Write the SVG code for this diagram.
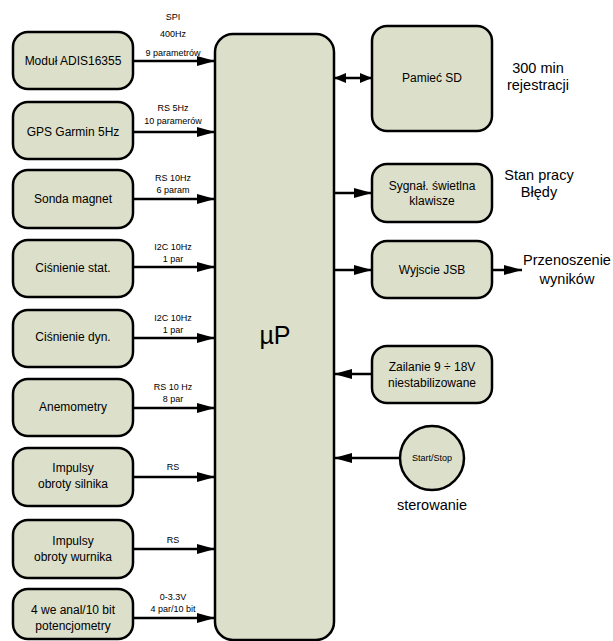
<svg xmlns="http://www.w3.org/2000/svg" width="613" height="641" viewBox="0 0 613 641">
<defs>
<style>
.n{fill:#dcdfc9;stroke:#000;stroke-width:2.5}
.t{font-family:"Liberation Sans",Arial,sans-serif;font-size:12px;fill:#000;text-anchor:middle}
.s{font-family:"Liberation Sans",Arial,sans-serif;font-size:9px;fill:#000;text-anchor:middle}
.b{font-family:"Liberation Sans",Arial,sans-serif;font-size:14.5px;fill:#000;text-anchor:middle}
.c line{stroke:#000;stroke-width:2.5}
</style>
<marker id="ah" viewBox="0 0 18 10" refX="18" refY="5" markerWidth="18" markerHeight="10" markerUnits="userSpaceOnUse" orient="auto-start-reverse">
<path d="M0,0 L18,5 L0,10 Z" fill="#000"/>
</marker>
<marker id="ah2" viewBox="0 0 12 10" refX="12" refY="5" markerWidth="12" markerHeight="10" markerUnits="userSpaceOnUse" orient="auto-start-reverse">
<path d="M0,0 L12,5 L0,10 Z" fill="#000"/>
</marker>
</defs>
<rect width="613" height="641" fill="#fff"/>
<g id="up"><rect class="n" x="215" y="34" width="119" height="606" rx="18"/><text x="275" y="344" font-family="Liberation Sans,Arial,sans-serif" font-size="25" text-anchor="middle">µP</text></g>
<g id="n1"><rect class="n" x="13" y="32" width="120" height="57" rx="15"/><text class="t" x="73" y="65">Moduł ADIS16355</text></g>
<g id="n2"><rect class="n" x="13" y="102" width="120" height="57" rx="15"/><text class="t" x="73" y="136">GPS Garmin 5Hz</text></g>
<g id="n3"><rect class="n" x="13" y="170" width="120" height="58" rx="15"/><text class="t" x="73" y="203">Sonda magnet</text></g>
<g id="n4"><rect class="n" x="13" y="240" width="120" height="57" rx="15"/><text class="t" x="73" y="272">Ciśnienie stat.</text></g>
<g id="n5"><rect class="n" x="13" y="310" width="120" height="57" rx="15"/><text class="t" x="73" y="341">Ciśnienie dyn.</text></g>
<g id="n6"><rect class="n" x="13" y="379" width="120" height="57" rx="15"/><text class="t" x="73" y="411">Anemometry</text></g>
<g id="n7"><rect class="n" x="13" y="448" width="120" height="58" rx="15"/><text class="t" x="73" y="472">Impulsy</text><text class="t" x="73" y="488">obroty silnika</text></g>
<g id="n8"><rect class="n" x="13" y="520" width="120" height="58" rx="15"/><text class="t" x="73" y="545">Impulsy</text><text class="t" x="73" y="561">obroty wurnika</text></g>
<g id="n9"><rect class="n" x="13" y="589" width="120" height="50" rx="15"/><text class="t" x="73" y="614">4 we anal/10 bit</text><text class="t" x="73" y="630">potencjometry</text></g>
<g id="sd"><rect class="n" x="372" y="26" width="120" height="105" rx="15"/><text class="t" x="432" y="82">Pamieć SD</text></g>
<g id="syg"><rect class="n" x="372" y="164" width="120" height="58" rx="15"/><text class="t" x="432" y="190">Sygnał. świetlna</text><text class="t" x="432" y="205">klawisze</text></g>
<g id="usb"><rect class="n" x="372" y="241" width="120" height="57" rx="15"/><text class="t" x="432" y="274">Wyjscie JSB</text></g>
<g id="zas"><rect class="n" x="372" y="346" width="120" height="57" rx="15"/><text class="t" x="432" y="371">Zailanie 9 ÷ 18V</text><text class="t" x="432" y="387">niestabilizowane</text></g>
<g id="ss"><circle class="n" cx="432" cy="458" r="32"/><text class="s" x="432" y="461">Start/Stop</text></g>
<g id="connectors" class="c">
<line x1="133" y1="61" x2="215" y2="61" marker-end="url(#ah)"/>
<line x1="133" y1="132" x2="215" y2="132" marker-end="url(#ah)"/>
<line x1="133" y1="199" x2="215" y2="199" marker-end="url(#ah)"/>
<line x1="133" y1="267" x2="215" y2="267" marker-end="url(#ah)"/>
<line x1="133" y1="338" x2="215" y2="338" marker-end="url(#ah)"/>
<line x1="133" y1="408" x2="215" y2="408" marker-end="url(#ah)"/>
<line x1="133" y1="477" x2="215" y2="477" marker-end="url(#ah)"/>
<line x1="133" y1="549" x2="215" y2="549" marker-end="url(#ah)"/>
<line x1="133" y1="618" x2="215" y2="618" marker-end="url(#ah)"/>
<line x1="334" y1="78" x2="372" y2="78" marker-start="url(#ah2)" marker-end="url(#ah2)"/>
<line x1="334" y1="193" x2="372" y2="193" marker-end="url(#ah)"/>
<line x1="334" y1="270" x2="372" y2="270" marker-end="url(#ah)"/>
<line x1="492" y1="270" x2="522" y2="270" marker-end="url(#ah)"/>
<line x1="372" y1="374" x2="334" y2="374" marker-end="url(#ah)"/>
<line x1="400" y1="458" x2="334" y2="458" marker-end="url(#ah)"/>
</g>
<g id="labels">
<text class="s" x="173" y="20">SPI</text>
<text class="s" x="173" y="37">400Hz</text>
<text class="s" x="173" y="56">9 parametrów</text>
<text class="s" x="173" y="111">RS 5Hz</text>
<text class="s" x="173" y="124">10 paramerów</text>
<text class="s" x="173" y="181">RS 10Hz</text>
<text class="s" x="173" y="193">6 param</text>
<text class="s" x="173" y="250">I2C 10Hz</text>
<text class="s" x="173" y="262">1 par</text>
<text class="s" x="173" y="321">I2C 10Hz</text>
<text class="s" x="173" y="333">1 par</text>
<text class="s" x="173" y="390">RS 10 Hz</text>
<text class="s" x="173" y="402">8 par</text>
<text class="s" x="173" y="470">RS</text>
<text class="s" x="173" y="543">RS</text>
<text class="s" x="173" y="600">0-3.3V</text>
<text class="s" x="173" y="612">4 par/10 bit</text>
<text class="b" x="538" y="73">300 min</text>
<text class="b" x="538" y="90">rejestracji</text>
<text class="b" x="539" y="180">Stan pracy</text>
<text class="b" x="539" y="197">Błędy</text>
<text class="b" x="567" y="265">Przenoszenie</text>
<text class="b" x="567" y="284">wyników</text>
<text class="b" x="432" y="510">sterowanie</text>
</g>
</svg>
